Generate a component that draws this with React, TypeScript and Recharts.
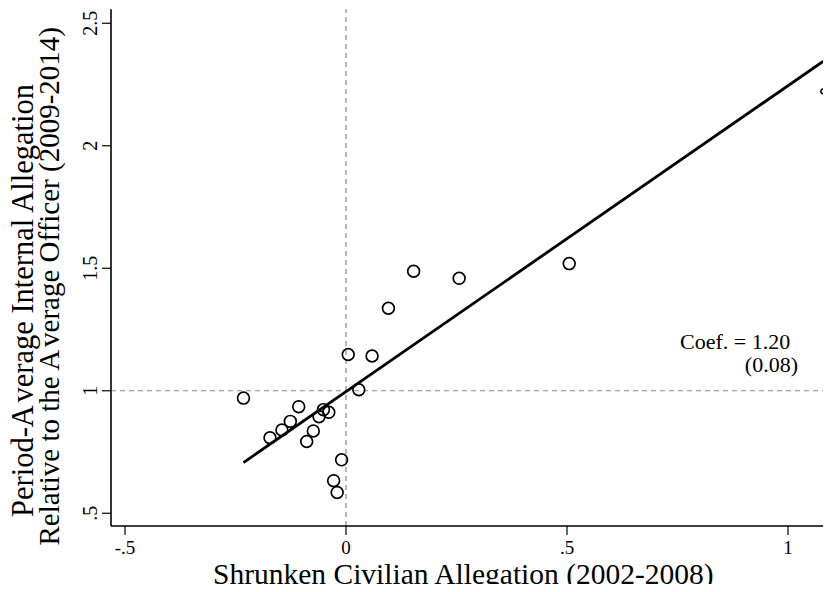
import { ScatterChart, Scatter, XAxis, YAxis, ReferenceLine } from 'recharts';

const SERIF = '"Liberation Serif", "Times New Roman", serif';

// officer-level points: shrunken civilian allegation vs. internal allegation ratio
const civilianX = [
  -0.232, -0.172, -0.145, -0.126, -0.107, -0.089, -0.074, -0.061, -0.051, -0.039,
  -0.01, -0.028, -0.02, 0.029, 0.005, 0.059, 0.096, 0.153, 0.256, 0.505,
];
const internalY = [
  0.97, 0.808, 0.84, 0.875, 0.935, 0.793, 0.836, 0.894, 0.923, 0.912,
  0.718, 0.633, 0.585, 1.004, 1.148, 1.142, 1.337, 1.488, 1.459, 1.519,
];

// the small marker on the far right
const outlierX = [1.08];
const outlierY = [2.222];

// fitted line endpoints
const fitX = [-0.232, 1.08];
const fitY = [0.707, 2.345];

const xTicks = [-0.5, 0, 0.5, 1];
const xTickLabels = ['-.5', '0', '.5', '1'];
const yTicks = [0.5, 1, 1.5, 2, 2.5];
const yTickLabels = ['.5', '1', '1.5', '2', '2.5'];

const points = civilianX.map((x, i) => ({ x, y: internalY[i] }));
const outliers = outlierX.map((x, i) => ({ x, y: outlierY[i] }));
const fitLine = fitX.map((x, i) => ({ x, y: fitY[i] }));

const X_DOMAIN = [-0.5317, 1.0973];

const XTick = ({ x, y, payload }: any) => (
  <text x={x} y={y} dy={17} textAnchor="middle" fontFamily={SERIF} fontSize={19} fill="#000">
    {xTickLabels[xTicks.indexOf(payload.value)]}
  </text>
);

const YTick = ({ x, y, payload }: any) => (
  <text
    x={x - 3}
    y={y}
    transform={`rotate(-90, ${x - 3}, ${y})`}
    textAnchor="middle"
    fontFamily={SERIF}
    fontSize={20}
    fill="#000"
  >
    {yTickLabels[yTicks.indexOf(payload.value)]}
  </text>
);

const OpenCircle = ({ cx, cy }: any) => (
  <circle cx={cx} cy={cy} r={5.9} fill="none" stroke="#000" strokeWidth={1.7} />
);

const SmallCircle = ({ cx, cy }: any) => (
  <circle cx={cx} cy={cy} r={2.5} fill="none" stroke="#000" strokeWidth={1.5} />
);

const NoDot = () => <g />;

export default function App() {
  return (
    <div
      style={{
        position: 'relative',
        margin: -8,
        width: 831,
        height: 592,
        overflow: 'hidden',
        background: '#fff',
      }}
    >
      <ScatterChart width={831} height={592} margin={{ top: 9.3, right: 0, bottom: 0, left: 0 }}>
        <XAxis
          dataKey="x"
          type="number"
          domain={X_DOMAIN}
          allowDataOverflow
          ticks={xTicks}
          tick={<XTick />}
          tickSize={9}
          height={66}
          axisLine={{ stroke: '#000', strokeWidth: 1.6 }}
          tickLine={{ stroke: '#000', strokeWidth: 1.2 }}
        />
        <XAxis
          xAxisId="top"
          orientation="top"
          type="number"
          domain={X_DOMAIN}
          allowDataOverflow
          height={0}
          tick={false}
          tickLine={false}
          axisLine={{ stroke: '#000', strokeWidth: 1.6 }}
        />
        <YAxis
          dataKey="y"
          type="number"
          domain={[0.448, 2.557]}
          allowDataOverflow
          ticks={yTicks}
          tick={<YTick />}
          tickSize={9}
          width={111}
          axisLine={{ stroke: '#000', strokeWidth: 1.6 }}
          tickLine={{ stroke: '#000', strokeWidth: 1.2 }}
        />
        <ReferenceLine x={0} stroke="#8a8a8a" strokeDasharray="5 4" strokeWidth={1.2} />
        <ReferenceLine y={1} stroke="#8a8a8a" strokeDasharray="5 4" strokeWidth={1.2} />
        <Scatter data={points} shape={<OpenCircle />} isAnimationActive={false} />
        <Scatter data={outliers} shape={<SmallCircle />} isAnimationActive={false} />
        <Scatter
          data={fitLine}
          shape={<NoDot />}
          line={{ stroke: '#000', strokeWidth: 2.8 }}
          isAnimationActive={false}
        />
      </ScatterChart>

      <svg
        width={831}
        height={592}
        style={{ position: 'absolute', left: 0, top: 0, pointerEvents: 'none' }}
      >
        <g fontFamily={SERIF} fill="#000">
          <text x={213} y={584} textAnchor="start" fontSize={29.5}>
            Shrunken Civilian Allegation (2002-2008)
          </text>
          <text x={33} y={517} transform="rotate(-90, 33, 517)" textAnchor="start" fontSize={30.5}>
            <tspan>Period-A</tspan>
            <tspan dx={5}>verage Internal Allegation</tspan>
          </text>
          <text x={58.5} y={27} transform="rotate(-90, 58.5, 27)" textAnchor="end" fontSize={29}>
            <tspan>Relative to the A</tspan>
            <tspan dx={5}>verage Officer (2009-2014)</tspan>
          </text>
          <text x={680} y={349} fontSize={22}>
            Coef. = 1.20
          </text>
          <text x={798} y={372} textAnchor="end" fontSize={22}>
            (0.08)
          </text>
        </g>
      </svg>
    </div>
  );
}
